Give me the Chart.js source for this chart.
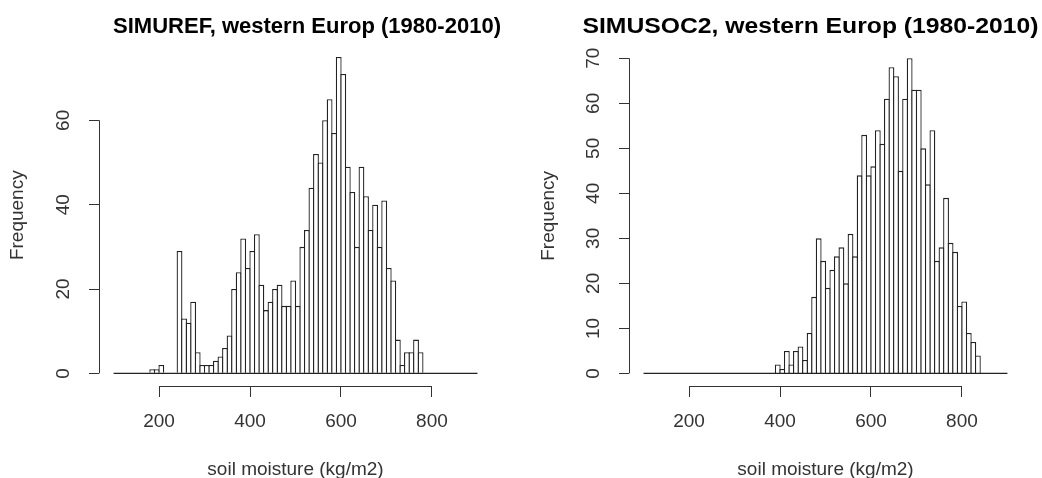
<!DOCTYPE html>
<html>
<head>
<meta charset="utf-8">
<title>Soil moisture histograms</title>
<script src="https://cdn.jsdelivr.net/npm/chart.js@4.4.1/dist/chart.umd.min.js"></script>
<style>
  html, body { margin: 0; padding: 0; background: #fff; }
  #wrap { position: relative; width: 1042px; height: 478px; overflow: hidden; }
  .panel { position: absolute; top: 0; width: 521px; height: 478px; }
  #panelRef { left: 0; }
  #panelSoc { left: 521px; }
</style>
</head>
<body>
<div id="wrap">
  <div class="panel" id="panelRef"><canvas id="refChart"></canvas></div>
  <div class="panel" id="panelSoc"><canvas id="socChart"></canvas></div>
</div>
<script>
// Histogram breaks: 10 kg/m2 bins from 100 to 900
const BREAK_MIN = 100;
const BIN_WIDTH = 10;

// Counts per bin, 100-110 ... 890-900
const refCounts = [
  0, 0, 0, 0, 0, 0, 0, 0,                 // 100-170
  1, 1, 2, 0, 0, 0,                       // 180-230
  29, 13, 12, 17, 5, 2,                   // 240-290
  2, 2, 3, 4, 6, 9, 20, 24, 32, 25,       // 300-390
  29, 33, 21, 15, 17, 20, 21, 16, 16, 22, // 400-490
  16, 30, 34, 44, 52, 50, 60, 65, 57, 75, // 500-590
  71, 49, 43, 30, 49, 42, 34, 40, 30, 41, // 600-690
  25, 22, 8, 2, 5, 5, 8, 5, 0, 0,         // 700-790
  0, 0, 0, 0, 0, 0, 0, 0, 0, 0            // 800-890
];

const socCounts = [
  0, 0, 0, 0, 0, 0, 0, 0, 0, 0,           // 100-190
  0, 0, 0, 0, 0, 0, 0, 0, 0, 0,           // 200-290
  0, 0, 0, 0, 0, 0, 0, 0, 0, 2,           // 300-390
  1, 5, 2, 5, 6, 3, 9, 17, 30, 25,        // 400-490
  19, 23, 26, 28, 20, 31, 26, 44, 53, 44, // 500-590
  46, 54, 51, 61, 68, 66, 45, 61, 70, 63, // 600-690
  63, 50, 42, 54, 25, 28, 39, 29, 27, 15, // 700-790
  16, 9, 7, 4, 0, 0, 0, 0, 0, 0           // 800-890
];

const xTicks = [200, 400, 600, 800];
const refYTicks = [0, 20, 40, 60];
const socYTicks = [0, 10, 20, 30, 40, 50, 60, 70];

const FONT = "'Liberation Sans', Arial, Helvetica, sans-serif";
const INK = "#333";

// R-style detached axes: lines only between the first and last tick,
// y labels turned parallel to the axis, bold title over the panel
const rAxes = {
  id: "rAxes",
  afterDraw(chart, args, opts) {
    const { ctx } = chart;
    const x = chart.scales.x, y = chart.scales.y;
    const xt = x.ticks, yt = y.ticks;
    ctx.save();
    ctx.strokeStyle = "#333";
    ctx.lineWidth = 1;
    ctx.beginPath();
    const xy = Math.round(x.top) + 0.5;
    ctx.moveTo(x.getPixelForValue(xt[0].value), xy);
    ctx.lineTo(x.getPixelForValue(xt[xt.length - 1].value), xy);
    const yx = Math.round(y.right) + 0.5;
    ctx.moveTo(yx, y.getPixelForValue(yt[0].value));
    ctx.lineTo(yx, y.getPixelForValue(yt[yt.length - 1].value));
    ctx.stroke();

    ctx.fillStyle = INK;
    ctx.font = "19px " + FONT;
    ctx.textAlign = "center";
    ctx.textBaseline = "middle";
    yt.forEach(t => {
      ctx.save();
      ctx.translate(y.right - 35, y.getPixelForValue(t.value));
      ctx.rotate(-Math.PI / 2);
      ctx.fillText(String(t.value), 0, 0);
      ctx.restore();
    });

    // title, stretched sideways to the requested width
    ctx.fillStyle = "#000";
    ctx.font = "bold 22px " + FONT;
    ctx.textBaseline = "alphabetic";
    const sx = opts.titleWidth / ctx.measureText(opts.title).width;
    ctx.translate(opts.titleX, 33);
    ctx.scale(sx, 1);
    ctx.fillText(opts.title, 0, 0);
    ctx.restore();
  }
};

function makeHist(canvasId, title, counts, yTicks, panel) {
  const bars = counts.map((c, i) => ({ x: BREAK_MIN + i * BIN_WIDTH + BIN_WIDTH / 2, y: c }));
  const lastBreak = BREAK_MIN + counts.length * BIN_WIDTH;
  const ymax = Math.max(...counts);
  // 4% extension of the data range on both axes, as R does
  const xExt = 0.04 * (lastBreak - BREAK_MIN);

  return new Chart(document.getElementById(canvasId), {
    type: "bar",
    data: {
      datasets: [
        {
          type: "line",
          data: [{ x: BREAK_MIN, y: 0 }, { x: lastBreak, y: 0 }],
          borderColor: "#222",
          borderWidth: 1.3,
          pointRadius: 0
        },
        {
          type: "bar",
          data: bars,
          backgroundColor: "#fff",
          borderColor: "#222",
          borderWidth: { top: 1.3, left: 1.3, right: 1.3, bottom: 0 },
          barPercentage: 1.28,
          categoryPercentage: 1
        }
      ]
    },
    options: {
      responsive: true,
      maintainAspectRatio: false,
      animation: false,
      layout: { padding: { left: 0, right: panel.padRight, top: panel.top, bottom: 0 } },
      plugins: {
        legend: { display: false },
        tooltip: { enabled: false },
        title: { display: false },
        rAxes: { title: title, titleX: panel.titleX, titleWidth: panel.titleWidth }
      },
      scales: {
        x: {
          type: "linear",
          offset: false,
          min: BREAK_MIN - xExt,
          max: lastBreak + xExt,
          afterBuildTicks: s => { s.ticks = xTicks.map(v => ({ value: v })); },
          afterFit: s => { s.height = 92; },
          border: { display: false },
          grid: { offset: false, drawOnChartArea: false, drawTicks: true, tickLength: 11, color: "#333", lineWidth: 1 },
          ticks: { color: INK, font: { family: FONT, size: 19 }, padding: 13, maxRotation: 0, autoSkip: false },
          title: {
            display: true,
            text: "soil moisture (kg/m2)",
            color: INK,
            font: { family: FONT, size: 19, lineHeight: 1 },
            padding: { top: 0, bottom: -1 }
          }
        },
        y: {
          type: "linear",
          min: -0.04 * ymax,
          max: 1.04 * ymax,
          afterBuildTicks: s => { s.ticks = yTicks.map(v => ({ value: v })); },
          afterFit: s => { s.width = panel.axisWidth; },
          border: { display: false },
          grid: { drawOnChartArea: false, drawTicks: true, tickLength: 10, color: "#333", lineWidth: 1 },
          ticks: { display: false },
          title: {
            display: true,
            text: "Frequency",
            color: INK,
            font: { family: FONT, size: 19, lineHeight: 1.2 },
            padding: { top: panel.yTitlePad, bottom: 0 }
          }
        }
      }
    },
    plugins: [rAxes]
  });
}

makeHist("refChart", "SIMUREF, western Europ (1980-2010)", refCounts, refYTicks,
  { axisWidth: 99, padRight: 29, top: 44.4, yTitlePad: 6.6, titleX: 307, titleWidth: 388 });
makeHist("socChart", "SIMUSOC2, western Europ (1980-2010)", socCounts, socYTicks,
  { axisWidth: 108, padRight: 20, top: 45.7, yTitlePad: 16.6, titleX: 289.5, titleWidth: 456 });
</script>
</body>
</html>
